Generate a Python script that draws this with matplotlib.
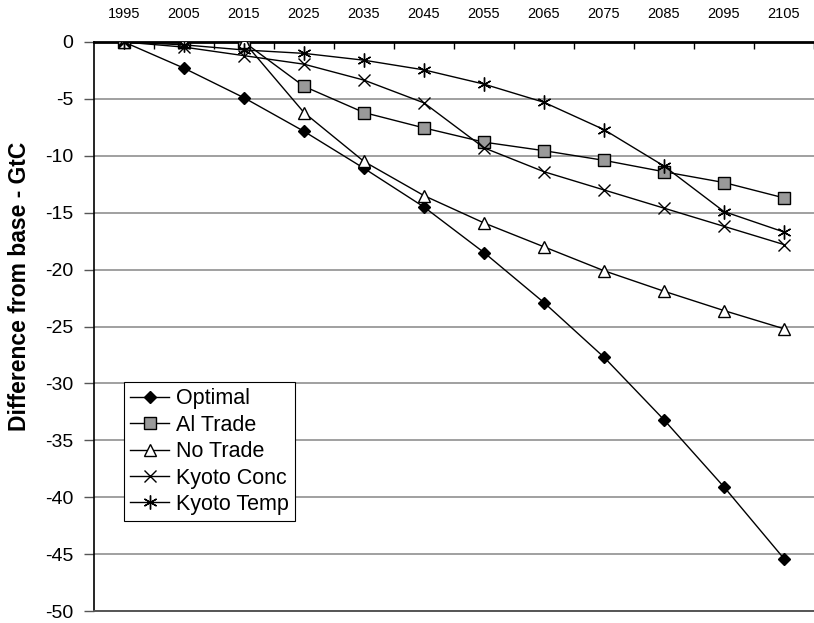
import matplotlib
matplotlib.use("Agg")
import matplotlib.pyplot as plt
import numpy as np

years = ["1995", "2005", "2015", "2025", "2035", "2045", "2055", "2065", "2075", "2085", "2095", "2105"]
optimal = [0, -2.3, -4.9, -7.85, -11.1, -14.5, -18.5, -22.9, -27.7, -33.2, -39.1, -45.4]
al_trade = [0, 0, 0, -3.9, -6.2, -7.55, -8.8, -9.55, -10.4, -11.4, -12.35, -13.7]
no_trade = [0, 0, 0, -6.2, -10.5, -13.5, -15.9, -18.0, -20.1, -21.9, -23.6, -25.2]
kyoto_conc = [0, -0.45, -1.2, -1.95, -3.35, -5.35, -9.3, -11.4, -13.0, -14.6, -16.2, -17.8]
kyoto_temp = [0, -0.25, -0.7, -1.0, -1.6, -2.45, -3.7, -5.3, -7.7, -10.9, -14.9, -16.7]
y_ticks = [0, -5, -10, -15, -20, -25, -30, -35, -40, -45, -50]

plt.rcParams['font.family'] = ['Liberation Sans', 'DejaVu Sans']

fig = plt.figure(figsize=(8.14, 6.23), dpi=100)
W, H = 814, 623
left, right, top, bottom = 94, 814, 42, 611
ax = fig.add_axes([left / W, 1 - bottom / H, (right - left) / W, (bottom - top) / H])

x = np.arange(len(years))

for yv in y_ticks[1:]:
    ax.axhline(yv, color='#a0a0a0', lw=1.4, zorder=1)

ax.plot(x, optimal, color='black', lw=1, marker='D', ms=6.5, mfc='black', mec='black', label='Optimal', zorder=3)
ax.plot(x, al_trade, color='black', lw=1, marker='s', ms=8, mfc='#9a9a9a', mec='black', mew=1, label='Al Trade', zorder=3)
ax.plot(x, no_trade, color='black', lw=1, marker='^', ms=9, mfc='white', mec='black', mew=1, label='No Trade', zorder=3)
ax.plot(x, kyoto_conc, color='black', lw=1, marker='x', ms=8, mew=1, label='Kyoto Conc', zorder=3)
ax.plot(x, kyoto_temp, color='black', lw=1, marker=(6, 2, 0), ms=10, mew=1, label='Kyoto Temp', zorder=3)

ax.set_xlim(-0.5, 11.43)
ax.set_ylim(-50, 0)

# x axis on top: tick marks at category boundaries, labels at centers
ax.xaxis.tick_top()
ax.set_xticks(np.arange(len(years)) + 0.5)
ax.set_xticklabels([])
ax.tick_params(axis='x', which='major', direction='in', length=5, width=1, color='black')
ax.set_xticks(x, minor=True)
ax.set_xticklabels(years, minor=True, fontsize=10.5)
ax.tick_params(axis='x', which='minor', length=0, pad=15)

ax.set_yticks(y_ticks)
ax.set_yticklabels([str(v) for v in y_ticks], fontsize=14)
ax.tick_params(axis='y', direction='out', length=7, width=1, pad=8, color='#555555')

ax.spines['right'].set_visible(False)
ax.spines['top'].set_linewidth(2)
ax.spines['top'].set_color('black')
ax.spines['left'].set_linewidth(1.2)
ax.spines['left'].set_color('black')
ax.spines['bottom'].set_linewidth(1.4)
ax.spines['bottom'].set_color('#555555')

fig.text(20 / W, 1 - 286 / H, 'Difference from base - GtC', rotation=90, fontsize=16.5,
         fontweight='bold', ha='center', va='center')

leg = ax.legend(loc='upper left', bbox_to_anchor=(124 / W, 1 - 382 / H), bbox_transform=fig.transFigure,
                fontsize=15.5, frameon=True, fancybox=False, edgecolor='black', framealpha=1,
                borderaxespad=0, handlelength=1.8, handletextpad=0.3, labelspacing=0.25,
                borderpad=0.3)
leg.get_frame().set_linewidth(0.8)

fig.savefig('out.png', dpi=100, facecolor='white')
